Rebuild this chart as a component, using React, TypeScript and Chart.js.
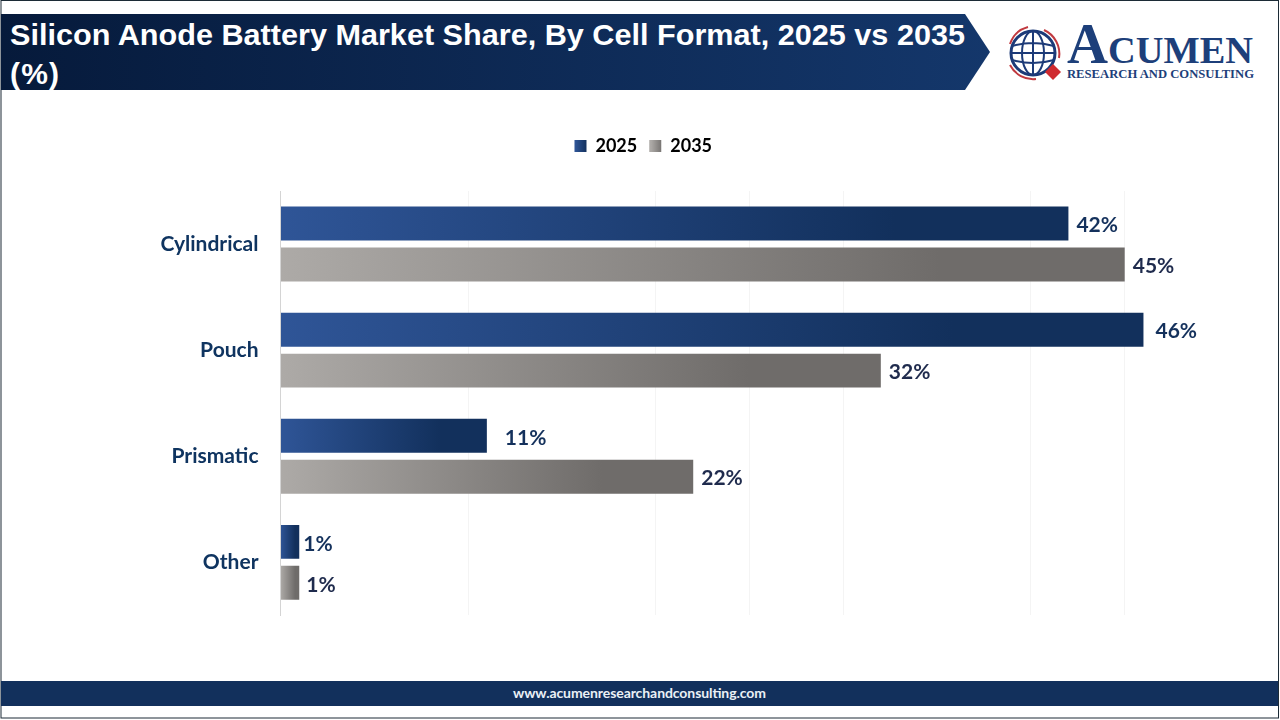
import { useEffect, useRef } from "react";
import { Chart, registerables, type Plugin } from "chart.js";

Chart.register(...registerables);

const categories = ["Cylindrical", "Pouch", "Prismatic", "Other"];
const values2025 = [42, 46, 11, 1];
const values2035 = [45, 32, 22, 1];
const seriesNames = ["2025", "2035"];
const gridValues = [0, 10, 20, 25, 30, 40, 45];

// gap between bar end and its label, the source chart is not consistent
const labelGaps = [
  [8, 12, 18, 4],
  [8, 8, 8, 7],
];

const gradients = [
  ["#2f5597", "#12305c"],
  ["#adaaa7", "#6f6c6a"],
];

const barFill = (seriesIndex: number) => (context: any) => {
  const [from, to] = gradients[seriesIndex];
  const { chart, raw } = context;
  if (typeof raw !== "number" || !chart.chartArea) return to;
  const x0 = chart.scales.x.getPixelForValue(0);
  const x1 = chart.scales.x.getPixelForValue(raw);
  const g = chart.ctx.createLinearGradient(x0, 0, x1, 0);
  g.addColorStop(0, from);
  g.addColorStop(0.78, to);
  g.addColorStop(1, to);
  return g;
};

const valueLabels: Plugin<"bar"> = {
  id: "valueLabels",
  afterDatasetsDraw(chart) {
    const { ctx } = chart;
    ctx.save();
    ctx.font = "700 21px Lato";
    ctx.textBaseline = "middle";
    chart.data.datasets.forEach((dataset, i) => {
      ctx.fillStyle = i === 0 ? "#14315c" : "#1f2b4d";
      chart.getDatasetMeta(i).data.forEach((bar: any, j) => {
        ctx.fillText(`${dataset.data[j]}%`, bar.x + labelGaps[i][j], bar.y + 2);
      });
    });
    ctx.restore();
  },
};

// push the plot down below the legend
const legendSpacer: Plugin<"bar"> = {
  id: "legendSpacer",
  beforeInit(chart) {
    const legend: any = chart.legend;
    const fit = legend.fit;
    legend.fit = function () {
      fit.call(this);
      this.height += 26;
    };
  },
};

export default function App() {
  const canvasRef = useRef<HTMLCanvasElement>(null);

  useEffect(() => {
    if (!canvasRef.current) return;
    const ctx = canvasRef.current.getContext("2d");
    if (!ctx) return;

    const legendFill = (x: number, seriesIndex: number) => {
      const g = ctx.createLinearGradient(x, 0, x + 12, 0);
      g.addColorStop(0, gradients[seriesIndex][0]);
      g.addColorStop(1, gradients[seriesIndex][1]);
      return g;
    };

    const chart = new Chart(ctx, {
      type: "bar",
      data: {
        labels: categories,
        datasets: [values2025, values2035].map((values, i) => ({
          label: seriesNames[i],
          data: values,
          backgroundColor: barFill(i),
          barPercentage: 0.829,
          categoryPercentage: 0.772,
        })),
      },
      options: {
        indexAxis: "y",
        responsive: false,
        animation: false,
        layout: { padding: { left: 68, right: 61.5, bottom: 23 } },
        plugins: {
          tooltip: { enabled: false },
          legend: {
            position: "top",
            labels: {
              boxWidth: 12,
              boxHeight: 12,
              padding: 12,
              color: "#111111",
              font: { family: "Lato", size: 18, weight: 700 },
              generateLabels: () =>
                seriesNames.map((text, i) => ({
                  text,
                  fillStyle: legendFill(i === 0 ? 575 : 651, i),
                  strokeStyle: "transparent",
                  lineWidth: 0,
                  datasetIndex: i,
                })),
            },
          },
        },
        scales: {
          x: {
            min: 0,
            max: 50,
            afterBuildTicks: (scale) => {
              scale.ticks = gridValues.map((value) => ({ value }));
            },
            ticks: { display: false },
            border: { display: false },
            grid: { color: "#f4f4f4", drawTicks: false },
          },
          y: {
            afterFit: (scale) => {
              scale.width = 212.5;
            },
            grid: { display: false, drawTicks: false },
            border: { display: true, color: "#d4d4d4", width: 1 },
            ticks: {
              padding: 22,
              color: "#0f3460",
              font: { family: "Lato", size: 21, weight: 700 },
            },
          },
        },
      },
      plugins: [legendSpacer, valueLabels],
    });

    return () => chart.destroy();
  }, []);

  return (
    <div
      style={{
        position: "absolute",
        left: 0,
        top: 0,
        width: 1280,
        height: 720,
        background: "#ffffff",
        overflow: "hidden",
      }}
    >
      <svg width={1280} height={720} style={{ position: "absolute", left: 0, top: 0 }}>
        <defs>
          <linearGradient id="head" x1="0" x2="1" y1="0" y2="0">
            <stop offset="0" stopColor="#061a3b" />
            <stop offset="1" stopColor="#14376b" />
          </linearGradient>
        </defs>
        <rect x={1} y={0.5} width={1277.5} height={717.5} fill="none" stroke="#1c2b36" strokeWidth={1} />
        <polygon points="1,14 965,14 990,52 965,90 1,90" fill="url(#head)" />
        <text
          x={10}
          y={45}
          fill="#ffffff"
          fontFamily="Liberation Sans"
          fontWeight={700}
          fontSize={30}
          textLength={955}
          lengthAdjust="spacingAndGlyphs"
        >
          Silicon Anode Battery Market Share, By Cell Format, 2025 vs 2035
        </text>
        <text x={10} y={84} fill="#ffffff" fontFamily="Liberation Sans" fontWeight={700} fontSize={30} textLength={49}>
          (%)
        </text>

        {/* logo */}
        <g fill="none">
          <circle cx={1033} cy={53} r={22} stroke="#1c3a78" strokeWidth={3} />
          <ellipse cx={1033} cy={53} rx={11} ry={22} stroke="#1c3a78" strokeWidth={2} />
          <path d="M1033 31V75M1012 46Q1033 40 1054 46M1012 60Q1033 66 1054 60M1011 53H1055" stroke="#1c3a78" strokeWidth={2} />
          <path d="M1010 44A26 26 0 0 1 1028 27" stroke="#c0393f" strokeWidth={2} />
          <path d="M1044 30A26 26 0 0 1 1059 58" stroke="#c0393f" strokeWidth={2} />
          <path d="M1010 65A26 26 0 0 0 1036 79" stroke="#c0393f" strokeWidth={2} />
        </g>
        <polygon points="1053,64 1061,72 1053,80 1045,72" fill="#cf2a2f" />
        <text x={1067} y={63} fill="#1d3f7a" fontFamily="Liberation Serif" fontWeight={700} fontSize={57} textLength={41} lengthAdjust="spacingAndGlyphs">
          A
        </text>
        <text x={1108} y={63} fill="#1d3f7a" fontFamily="Liberation Serif" fontWeight={700} fontSize={38} textLength={145} lengthAdjust="spacingAndGlyphs">
          CUMEN
        </text>
        <text x={1067} y={78} fill="#1d3f7a" fontFamily="Liberation Serif" fontWeight={700} fontSize={13} textLength={187} lengthAdjust="spacingAndGlyphs">
          RESEARCH AND CONSULTING
        </text>

        <rect x={1} y={681} width={1277} height={25} fill="#12305c" />
        <text
          x={513}
          y={698}
          fill="#eaf0f6"
          fontFamily="Lato"
          fontWeight={700}
          fontSize={14}
          textLength={253}
        >
          www.acumenresearchandconsulting.com
        </text>
      </svg>
      <canvas
        ref={canvasRef}
        width={1280}
        height={525}
        style={{ position: "absolute", left: 0, top: 125, display: "block" }}
      />
    </div>
  );
}
